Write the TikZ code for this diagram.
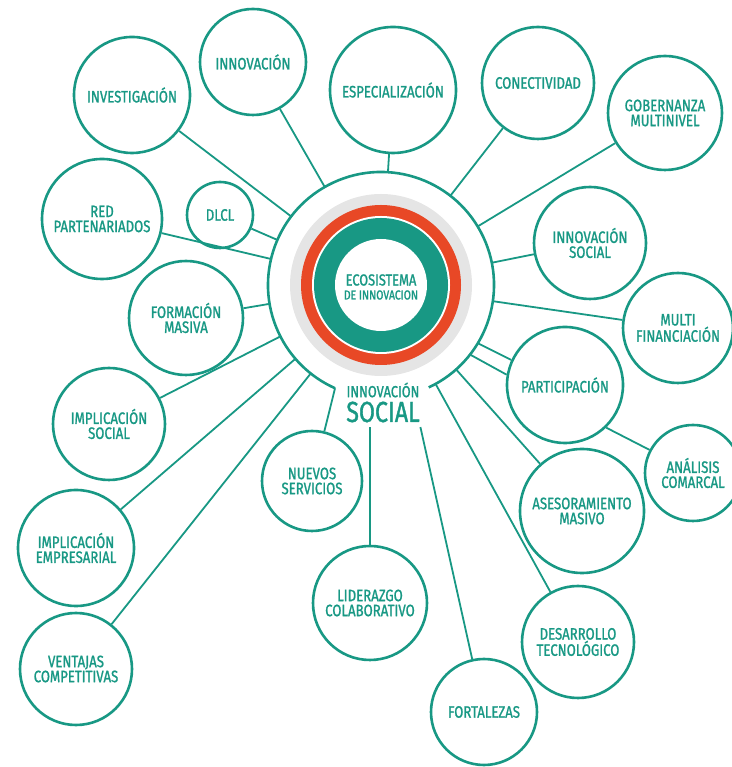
\documentclass[tikz,border=0pt]{standalone}
\usepackage{fontspec}
\setmainfont{Fira Sans}[FakeStretch=0.8,FakeBold=1.2]
\usetikzlibrary{positioning}
\definecolor{verde}{RGB}{24,152,132}
\definecolor{rojo}{RGB}{232,72,38}
\definecolor{gris}{RGB}{229,229,229}
\begin{document}
\begin{tikzpicture}[x=1pt,y=1pt,
	sat/.style={circle,draw=verde,line width=2.6pt,inner sep=0pt,minimum size=#1,align=center,text=verde,font=\fontsize{16.5}{15}\selectfont},
	hub/.style={circle,minimum size=226pt,inner sep=0pt,outer sep=0pt},
	rotulo/.style={text=verde,inner sep=0.5pt},
	link/.style={draw=verde,line width=1.8pt}]
	\useasboundingbox (0,0) rectangle (731,767);
	\path
	(381,482) node[hub] (hub) {}
	(132,672) node[sat=116pt] (invest) {INVESTIGACIÓN}
	(253,705) node[sat=106pt] (innov) {INNOVACIÓN}
	(393,677) node[sat=126pt] (espec) {ESPECIALIZACIÓN}
	(538,684) node[sat=112pt] (conect) {CONECTIVIDAD}
	(665,654) node[sat=114pt] (gober) {GOBERNANZA\\MULTINIVEL}
	(102,548) node[sat=120pt] (redpart) {RED\\PARTENARIADOS}
	(220,552) node[sat=66pt] (dlcl) {DLCL}
	(590,524) node[sat=112pt] (innsoc) {INNOVACIÓN\\SOCIAL}
	(186,449) node[sat=114pt] (formac) {FORMACIÓN\\MASIVA}
	(678,439) node[sat=110pt] (multi) {MULTI\\FINANCIACIÓN}
	(565,382) node[sat=116pt] (partic) {PARTICIPACIÓN}
	(109,343) node[sat=112pt] (implsoc) {IMPLICACIÓN\\SOCIAL}
	(312,286) node[sat=100pt] (nuevos) {NUEVOS\\SERVICIOS}
	(693,294) node[sat=96pt] (analisis) {ANÁLISIS\\COMARCAL}
	(582,256) node[sat=124pt] (asesor) {ASESORAMIENTO\\MASIVO}
	(76,219)  node[sat=116pt] (implemp) {IMPLICACIÓN\\EMPRESARIAL}
	(370,164) node[sat=114pt] (lider) {LIDERAZGO\\COLABORATIVO}
	(578,125) node[sat=112pt] (desarr) {DESARROLLO\\TECNOLÓGICO}
	(484,55)  node[sat=106pt] (fort) {FORTALEZAS}
	(76,98)   node[sat=112pt] (ventajas) {VENTAJAS\\COMPETITIVAS};
	\fill[gris] (hub) circle[radius=91pt];
	\fill[rojo] (hub) circle[radius=80pt];
	\fill[white] (hub) circle[radius=69pt];
	\fill[verde] (hub) circle[radius=67pt];
	\fill[white] (hub) circle[radius=46pt];
	\path
	(381,487) node[rotulo,font=\fontsize{16}{16}\selectfont] (eco) {ECOSISTEMA}
	(381,472) node[rotulo,font=\fontsize{13}{13}\selectfont] (deinn) {DE INNOVACION}
	(383,377) node[rotulo,font=\fontsize{16}{16}\selectfont] (inn) {INNOVACIÓN}
	(383,355) node[rotulo,font=\fontsize{29}{29}\selectfont] (soc) {SOCIAL};
	\draw[verde,line width=2.6pt] (hub.-65) arc[start angle=-65,end angle=246,radius=113pt];
	\foreach \s in {invest,innov,espec,conect,gober,redpart,dlcl,innsoc,formac,multi,implsoc,implemp,ventajas,asesor,desarr}
	\draw[link] (hub) -- (\s);
	\draw[link] (hub.-31) -- (partic.155);
	\draw[link] (hub.-38) -- (partic.170);
	\draw[link] (partic.-46) -- (analisis.152);
	\draw[link] (hub.246) -- (nuevos);
	\draw[link] ([yshift=-4pt]soc.south -| lider) -- (lider);
	\draw[link] ([yshift=-4pt]soc.south east) -- (fort);
\end{tikzpicture}
\end{document}
